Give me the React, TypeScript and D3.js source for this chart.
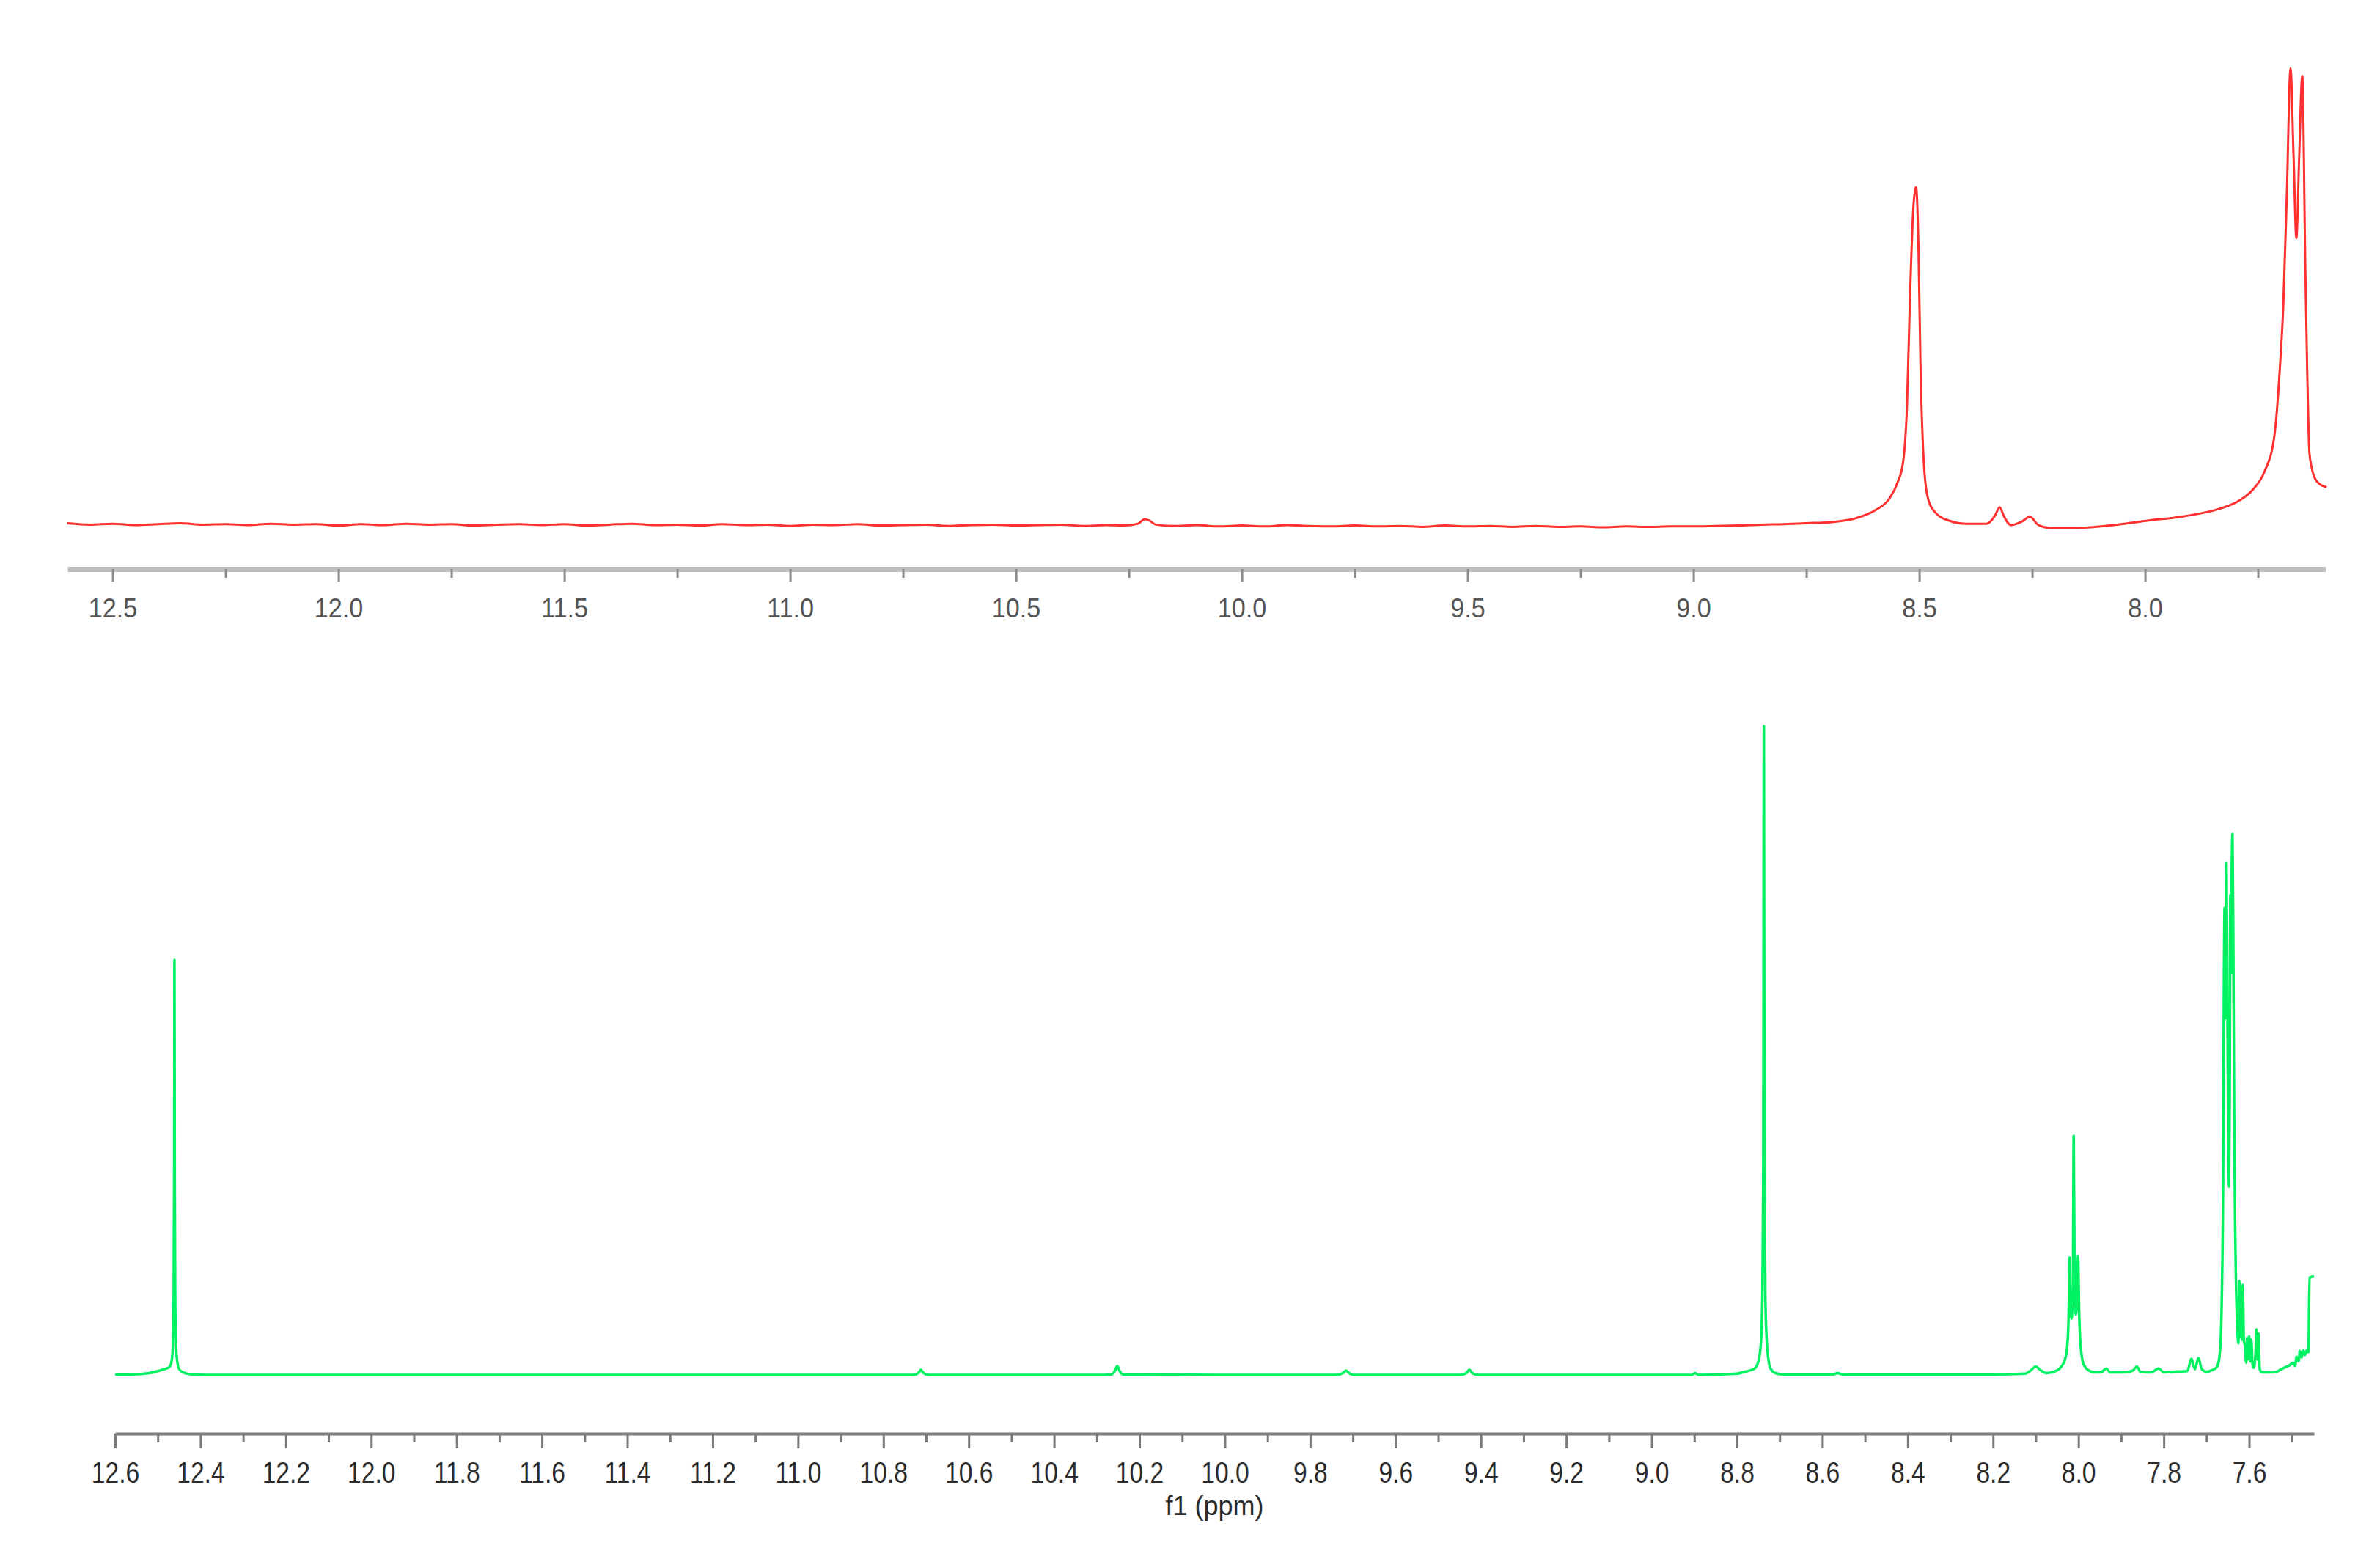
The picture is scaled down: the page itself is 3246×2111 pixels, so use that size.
import React, { useEffect, useRef } from 'react';
import * as d3 from 'd3';

const WIDTH = 3246;
const HEIGHT = 2111;

// upper spectrum (red): [ppm, relative intensity]
const redTrace: [number, number][] = [
    [12.60, 0.4], [12.55, 0.1], [12.50, 0.3], [12.45, 0.0], [12.40, 0.2], [12.35, 0.4], [12.30, 0.1],
    [12.25, 0.2], [12.20, 0.0], [12.15, 0.3], [12.10, 0.1], [12.05, 0.2], [12.00, -0.1], [11.95, 0.2],
    [11.90, 0.0], [11.85, 0.3], [11.80, 0.1], [11.75, 0.2], [11.70, -0.1], [11.65, 0.1], [11.60, 0.2],
    [11.55, 0.0], [11.50, 0.2], [11.45, -0.1], [11.40, 0.1], [11.35, 0.3], [11.30, 0.0], [11.25, 0.1],
    [11.20, -0.1], [11.15, 0.2], [11.10, 0.0], [11.05, 0.1], [11.00, -0.2], [10.95, 0.1], [10.90, 0.0],
    [10.85, 0.2], [10.80, -0.1], [10.75, 0.0], [10.70, 0.1], [10.65, -0.2], [10.60, 0.0], [10.55, 0.1],
    [10.50, -0.1], [10.45, 0.0], [10.40, 0.1], [10.35, -0.2], [10.30, 0.0], [10.26, -0.1], [10.23, 0.3],
    [10.215, 1.3], [10.205, 1.0], [10.19, 0.1], [10.15, -0.2], [10.10, 0.0], [10.05, -0.3], [10.00, -0.1],
    [9.95, -0.3], [9.90, 0.0], [9.85, -0.2], [9.80, -0.3], [9.75, -0.1], [9.70, -0.3], [9.65, -0.2],
    [9.60, -0.4], [9.55, -0.1], [9.50, -0.3], [9.45, -0.2], [9.40, -0.4], [9.35, -0.2], [9.30, -0.4],
    [9.25, -0.3], [9.20, -0.5], [9.15, -0.3], [9.10, -0.4], [9.05, -0.3], [9.00, -0.3], [8.95, -0.2],
    [8.90, -0.1], [8.85, 0.1], [8.80, 0.2], [8.75, 0.4], [8.69, 0.7], [8.644, 1.4], [8.598, 3.2],
    [8.567, 5.7], [8.548, 9.3], [8.536, 13.6], [8.527, 26.5], [8.521, 48], [8.513, 69.5], [8.507, 74],
    [8.502, 62], [8.497, 33.7], [8.491, 15.7], [8.482, 6.4], [8.466, 2.9], [8.435, 1.0], [8.397, 0.3],
    [8.351, 0.3], [8.332, 2.1], [8.322, 3.9], [8.313, 2.0], [8.297, 0.0], [8.274, 0.7], [8.255, 1.8],
    [8.236, 0.0], [8.212, -0.6], [8.147, -0.6], [8.069, 0.0], [7.992, 1.0], [7.915, 1.9], [7.837, 3.5],
    [7.798, 5.0], [7.760, 7.9], [7.737, 11.4], [7.714, 19.3], [7.702, 33.7], [7.694, 48], [7.686, 73],
    [7.678, 100], [7.671, 80], [7.665, 62.8], [7.659, 80], [7.652, 98.3], [7.645, 55], [7.641, 33.7],
    [7.636, 15.7], [7.626, 10.7], [7.614, 9.0], [7.598, 8.3]
];

// lower spectrum (green): [ppm, relative intensity]
const greenTrace: [number, number][] = [
    [12.60, 0.2], [12.56, 0.2], [12.52, 0.4], [12.50, 0.7], [12.49, 0.9], [12.48, 1.1], [12.472, 1.4],
    [12.467, 2.5], [12.4645, 5], [12.4628, 12], [12.4618, 30], [12.461, 64], [12.4602, 30], [12.4592, 12],
    [12.4575, 5], [12.455, 2.5], [12.45, 1.0], [12.44, 0.5], [12.42, 0.2], [12.35, 0.1], [12.2, 0.1],
    [12.0, 0.1], [11.8, 0.1], [11.6, 0.1], [11.4, 0.1], [11.2, 0.1], [11.0, 0.1], [10.8, 0.1],
    [10.73, 0.1], [10.718, 0.4], [10.712, 0.9], [10.706, 0.4], [10.694, 0.1], [10.5, 0.1], [10.3, 0.1],
    [10.265, 0.2], [10.257, 0.8], [10.252, 1.5], [10.247, 0.8], [10.239, 0.2], [10.0, 0.1], [9.74, 0.1],
    [9.723, 0.4], [9.716, 0.8], [9.709, 0.4], [9.695, 0.1], [9.45, 0.1], [9.434, 0.4], [9.427, 0.9],
    [9.420, 0.4], [9.405, 0.1], [9.1, 0.1], [8.906, 0.1], [8.898, 0.4], [8.890, 0.1], [8.80, 0.3],
    [8.783, 0.6], [8.765, 0.9], [8.757, 1.2], [8.749, 2.4], [8.744, 5], [8.7405, 12], [8.7385, 30],
    [8.737, 100], [8.7355, 30], [8.7335, 12], [8.730, 5], [8.726, 2.4], [8.723, 1.3], [8.71, 0.4],
    [8.69, 0.2], [8.575, 0.2], [8.564, 0.4], [8.553, 0.2], [8.4, 0.2], [8.2, 0.2], [8.125, 0.3],
    [8.11, 0.9], [8.10, 1.4], [8.09, 0.9], [8.075, 0.4], [8.05, 0.8], [8.039, 1.5], [8.033, 2.2],
    [8.027, 4], [8.023, 9], [8.021, 18.2], [8.019, 12], [8.016, 8.8], [8.013, 14], [8.011, 36.9],
    [8.009, 14], [8.006, 9.4], [8.003, 12], [8.001, 18.4], [7.998, 9], [7.994, 4], [7.987, 1.6],
    [7.976, 0.8], [7.96, 0.5], [7.945, 0.6], [7.935, 1.1], [7.925, 0.5], [7.89, 0.5], [7.872, 0.8],
    [7.863, 1.4], [7.855, 0.6], [7.83, 0.5], [7.812, 1.1], [7.80, 0.5], [7.78, 0.6], [7.745, 0.7],
    [7.735, 2.6], [7.727, 1.0], [7.719, 2.7], [7.711, 1.0], [7.70, 0.6], [7.685, 0.9], [7.676, 1.3],
    [7.671, 2.3], [7.667, 5], [7.664, 12], [7.661, 30], [7.659, 62], [7.6575, 72], [7.656, 55],
    [7.6545, 68], [7.653, 78.9], [7.651, 58], [7.649, 38], [7.647, 29.1], [7.6455, 42], [7.644, 74],
    [7.6425, 62], [7.641, 76], [7.639, 83.4], [7.637, 66], [7.635, 40], [7.633, 24], [7.631, 15],
    [7.628, 8], [7.625, 5], [7.623, 14.6], [7.621, 6], [7.619, 13.5], [7.617, 5.5], [7.615, 14],
    [7.612, 5], [7.610, 4.9], [7.607, 2.0], [7.605, 5.8], [7.603, 2.5], [7.600, 6.1], [7.597, 2.2],
    [7.595, 5.6], [7.592, 1.7], [7.589, 1.2], [7.585, 3.5], [7.583, 7.1], [7.580, 2.5], [7.578, 6.5],
    [7.575, 1.0], [7.572, 0.6], [7.56, 0.5], [7.545, 0.5], [7.535, 0.6], [7.525, 1.0], [7.515, 1.3],
    [7.505, 1.6], [7.497, 2.0], [7.492, 1.5], [7.489, 2.9], [7.484, 2.2], [7.481, 3.8], [7.477, 2.8],
    [7.473, 3.9], [7.469, 3.2], [7.465, 3.9], [7.461, 3.6], [7.4585, 15.1], [7.448, 15.3]
];

const topMajorTicks = [12.5, 12.0, 11.5, 11.0, 10.5, 10.0, 9.5, 9.0, 8.5, 8.0];
const topMinorTicks = [12.25, 11.75, 11.25, 10.75, 10.25, 9.75, 9.25, 8.75, 8.25, 7.75];

const bottomMajorTicks = [
    12.6, 12.4, 12.2, 12.0, 11.8, 11.6, 11.4, 11.2, 11.0, 10.8, 10.6, 10.4, 10.2,
    10.0, 9.8, 9.6, 9.4, 9.2, 9.0, 8.8, 8.6, 8.4, 8.2, 8.0, 7.8, 7.6
];
const bottomMinorTicks = [
    12.5, 12.3, 12.1, 11.9, 11.7, 11.5, 11.3, 11.1, 10.9, 10.7, 10.5, 10.3, 10.1,
    9.9, 9.7, 9.5, 9.3, 9.1, 8.9, 8.7, 8.5, 8.3, 8.1, 7.9, 7.7, 7.5
];

const axisTitle = 'f1 (ppm)';

const FONT = "'Liberation Sans', Arial, sans-serif";

const SpectrumFigure = () => {
    const svgRef = useRef<SVGSVGElement | null>(null);

    useEffect(() => {
        if (!svgRef.current) return;
        const svg = d3.select(svgRef.current);
        svg.selectAll('*').remove();

        const tickFmt = d3.format('.1f');

        // draws a ppm axis: major ticks with labels + short unlabelled minor ticks
        const drawAxis = (
            scale: d3.ScaleLinear<number, number>,
            y: number,
            major: number[],
            minor: number[],
            o: { domainColor: string; domainWidth: number; tickColor: string; major: number; minor: number;
                 pad: number; size: number; squeeze: number; textColor: string }
        ) => {
            const gMajor = svg.append('g')
                .attr('transform', `translate(0,${y})`)
                .call(d3.axisBottom(scale).tickValues(major).tickSize(o.major).tickSizeOuter(0)
                    .tickPadding(o.pad).tickFormat(d => tickFmt(d as number)));
            gMajor.select('.domain')
                .attr('stroke', o.domainColor)
                .attr('stroke-width', o.domainWidth);
            gMajor.selectAll('.tick line')
                .attr('stroke', o.tickColor)
                .attr('stroke-width', 3);
            gMajor.selectAll<SVGTextElement, unknown>('text')
                .attr('font-family', FONT)
                .attr('font-size', o.size)
                .attr('fill', o.textColor)
                .each(function () {
                    // the original labels use a narrow face
                    const w = this.getComputedTextLength();
                    if (w > 0 && o.squeeze !== 1) {
                        this.setAttribute('textLength', String(w * o.squeeze));
                        this.setAttribute('lengthAdjust', 'spacingAndGlyphs');
                    }
                });

            const gMinor = svg.append('g')
                .attr('transform', `translate(0,${y})`)
                .call(d3.axisBottom(scale).tickValues(minor).tickSize(o.minor).tickSizeOuter(0).tickFormat(() => ''));
            gMinor.select('.domain').remove();
            gMinor.selectAll('.tick line')
                .attr('stroke', o.tickColor)
                .attr('stroke-width', 3);
        };

        // ---- upper panel ----
        const xTop = d3.scaleLinear().domain([12.6, 7.6]).range([92, 3172]);
        const yTop = d3.scaleLinear().domain([0, 100]).range([716, 93]);

        drawAxis(xTop, 776, topMajorTicks, topMinorTicks, {
            domainColor: '#bfbfbf', domainWidth: 7, tickColor: '#8c8c8c', major: 17, minor: 12,
            pad: 23, size: 36, squeeze: 0.95, textColor: '#555'
        });

        const lineTop = d3.line<[number, number]>()
            .x(d => xTop(d[0]))
            .y(d => yTop(d[1]))
            .curve(d3.curveMonotoneX);

        svg.append('path')
            .datum(redTrace)
            .attr('fill', 'none')
            .attr('stroke', '#ff3030')
            .attr('stroke-width', 3)
            .attr('stroke-linejoin', 'round')
            .attr('d', lineTop);

        // ---- lower panel ----
        const xBot = d3.scaleLinear().domain([12.6, 7.448]).range([157, 3156]);
        const yBot = d3.scaleLinear().domain([0, 100]).range([1876, 990]);

        drawAxis(xBot, 1955, bottomMajorTicks, bottomMinorTicks, {
            domainColor: '#7c7c7c', domainWidth: 4, tickColor: '#7a7a7a', major: 20, minor: 12,
            pad: 19, size: 40, squeeze: 0.84, textColor: '#2b2b2b'
        });

        svg.append('text')
            .attr('x', (xBot.range()[0] + xBot.range()[1]) / 2)
            .attr('y', 2066)
            .attr('text-anchor', 'middle')
            .attr('font-family', FONT)
            .attr('font-size', 36)
            .attr('fill', '#2b2b2b')
            .text(axisTitle);

        const lineBot = d3.line<[number, number]>()
            .x(d => xBot(d[0]))
            .y(d => yBot(d[1]))
            .curve(d3.curveMonotoneX);

        svg.append('path')
            .datum(greenTrace)
            .attr('fill', 'none')
            .attr('stroke', '#00f262')
            .attr('stroke-width', 3.5)
            .attr('stroke-linejoin', 'round')
            .attr('d', lineBot);
    }, []);

    return (
        <div style={{ position: 'absolute', left: 0, top: 0 }}>
            <svg
                ref={svgRef}
                width={WIDTH}
                height={HEIGHT}
                style={{ display: 'block', background: '#fff' }}
            />
        </div>
    );
};

export default function App() {
    return <SpectrumFigure />;
}
